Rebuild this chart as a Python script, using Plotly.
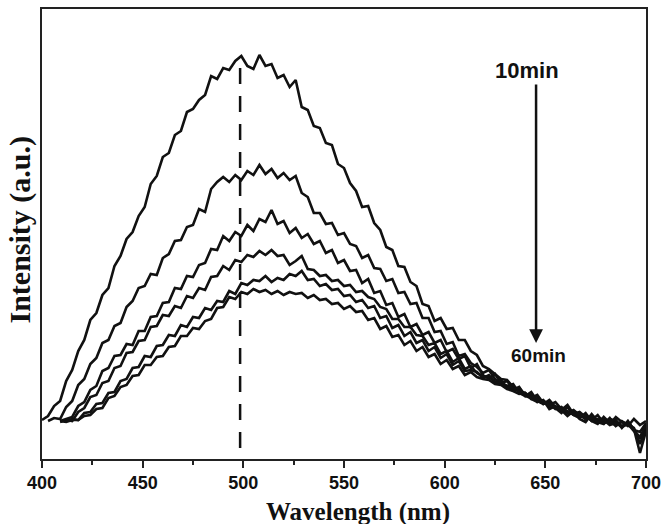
import plotly.graph_objects as go

# Wavelength sampling grid (nm)
wavelength = list(range(400, 701, 3))

# Emission intensities (a.u.), 10 min ... 60 min
i_10min = [39,43,53,58,78,89,108,119,139,146,
           164,171,193,203,220,227,243,252,275,283,
           302,306,324,328,347,350,359,364,383,380,
           391,389,398,403,393,390,404,393,395,381,
           384,372,379,352,349,333,331,316,314,295,
           291,276,268,252,253,236,229,212,209,193,
           192,177,173,155,153,138,141,130,131,119,
           119,108,104,93,90,85,80,79,72,70,
           63,64,57,59,50,53,49,43,48,40,
           37,45,38,41,35,42,37,33,40,34,
           38]
i_20min = [None,
           38,41,40,52,58,74,80,95,101,116,
           119,133,136,152,158,171,173,185,184,201,
           205,218,219,232,234,250,247,270,277,282,
           277,284,279,288,284,294,285,290,281,286,
           279,283,266,262,246,246,235,236,224,226,
           215,213,201,204,191,190,178,180,166,167,
           155,156,141,141,127,128,115,117,103,105,
           96,92,86,89,80,76,78,70,68,66,
           60,63,55,57,51,46,52,44,41,46,
           38,35,42,36,39,31,38,29,27,36]
i_30min = [None, None, None,
           38,40,42,53,57,69,73,88,91,103,
           104,115,114,128,128,142,143,156,157,171,
           170,183,182,194,196,210,209,223,218,227,
           223,234,228,240,237,249,235,238,226,231,
           221,225,215,218,206,209,196,199,188,189,
           176,180,166,168,154,156,142,145,132,135,
           124,127,116,119,107,110,100,103,91,95,
           84,80,85,76,73,75,66,63,67,58,
           55,59,52,49,54,45,47,42,39,44,
           36,40,38,33,37,30,20,34]
i_40min = [None, None, None,
           37,39,38,47,51,62,64,76,78,91,
           93,106,107,118,119,132,133,144,143,153,
           151,163,161,171,169,182,183,193,189,199,
           197,204,202,208,204,209,203,204,194,198,
           203,190,189,183,184,178,179,173,174,167,
           168,162,160,152,150,140,140,132,132,124,
           123,114,116,105,108,97,101,90,93,86,
           83,82,77,79,71,69,72,63,61,64,
           56,54,57,50,46,49,44,40,43,37,
           35,41,33,38,34,31,15,31]
i_50min = [None, None, None, None,
           38,40,39,46,47,55,56,66,67,78,
           80,91,92,103,102,113,114,124,123,134,
           132,142,141,151,149,158,157,168,165,176,
           174,179,178,183,177,181,179,185,183,188,
           179,180,173,175,169,170,163,164,157,159,
           151,153,141,143,131,134,123,127,116,119,
           108,112,101,105,94,98,88,89,87,81,
           84,77,75,73,70,71,64,62,60,58,
           55,50,52,47,45,42,44,38,40,36,
           38,33,37,35,28,22,33]
i_60min = [None, None, None,
           38,37,39,39,43,44,50,51,61,63,
           72,74,83,84,94,94,102,103,112,113,
           123,123,131,130,138,140,151,152,162,160,
           167,165,170,167,169,165,168,164,167,165,
           166,161,164,159,160,155,156,150,153,147,
           148,139,141,130,133,122,124,114,118,108,
           112,102,105,95,99,90,93,84,87,82,
           80,79,75,74,70,68,65,66,60,57,
           58,53,52,49,48,44,45,40,41,37,
           39,34,36,32,35,30,6,28]

series = [("10min", i_10min), ("20min", i_20min), ("30min", i_30min),
          ("40min", i_40min), ("50min", i_50min), ("60min", i_60min)]

x_ticks = [400, 450, 500, 550, 600, 650, 700]
peak_wavelength = 498.4
dash_span = [11, 399]
arrow_x = 645.4
arrow_span = [376, 116]

fig = go.Figure()
for name, vals in series:
    fig.add_trace(go.Scatter(x=wavelength, y=vals, mode="lines", name=name,
                             line=dict(color="#111111", width=2.6),
                             connectgaps=False, showlegend=False))

fig.add_shape(type="line", xref="x", yref="y",
              x0=peak_wavelength, x1=peak_wavelength,
              y0=dash_span[0], y1=dash_span[1],
              line=dict(color="#111111", width=2.5, dash="16px,12px"))

fig.add_annotation(x=arrow_x, y=arrow_span[1], ax=arrow_x, ay=arrow_span[0],
                   xref="x", yref="y", axref="x", ayref="y",
                   showarrow=True, arrowhead=2, arrowsize=1.1, arrowwidth=2.5,
                   arrowcolor="#111111", text="")
fig.add_annotation(x=641, y=389, xref="x", yref="y", text="10min", showarrow=False,
                   font=dict(family="Liberation Sans", size=22, color="#111111", weight="bold"))
fig.add_annotation(x=646.4, y=104, xref="x", yref="y", text="60min", showarrow=False,
                   font=dict(family="Liberation Sans", size=19, color="#111111", weight="bold"))

fig.add_annotation(x=0.523, y=0, xref="paper", yref="paper", yshift=-53,
                   text="Wavelength (nm)", showarrow=False, yanchor="middle",
                   font=dict(family="Liberation Serif", size=25, color="#111111", weight="bold"))
fig.add_annotation(x=0, y=0.51, xref="paper", yref="paper", xshift=-23,
                   text="Intensity (a.u.)", showarrow=False, textangle=-90, xanchor="center",
                   font=dict(family="Liberation Serif", size=30, color="#111111", weight="bold"))

fig.update_xaxes(range=[400, 700], tickvals=x_ticks, ticktext=[str(v) for v in x_ticks],
                 ticks="outside", ticklen=7, tickwidth=1.5, tickcolor="#222222",
                 minor=dict(dtick=25, tick0=400, ticks="outside", ticklen=4, tickwidth=1.5, tickcolor="#222222"),
                 showline=True, mirror=True, linecolor="#222222", linewidth=1.5,
                 showgrid=False, zeroline=False, automargin=False,
                 tickfont=dict(family="Liberation Sans", size=18, color="#111111", weight="bold"))
fig.update_yaxes(range=[0, 450], showticklabels=False, ticks="",
                 showline=True, mirror=True, linecolor="#222222", linewidth=1.5,
                 showgrid=False, zeroline=False, automargin=False)

fig.update_layout(width=663, height=524, margin=dict(l=42, r=17, t=9, b=65),
                  paper_bgcolor="white", plot_bgcolor="white")

fig.write_html("out.html", config={"displayModeBar": False},
               post_script="document.body.style.margin='0px';document.body.style.overflow='hidden';")
